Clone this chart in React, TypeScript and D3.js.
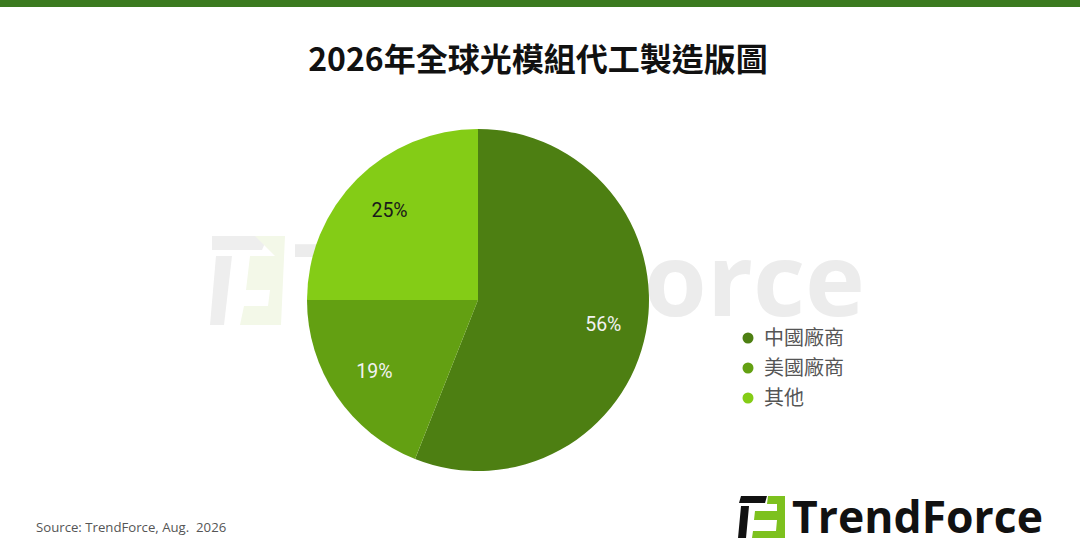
import React from 'react';
import * as d3 from 'd3';

const categories = ['中國廠商', '美國廠商', '其他'];
const shares = [56, 19, 25];
const sliceColors = ['#4d7f12', '#63a012', '#84cc16'];
const labelColors = ['#f2f2f2', '#f2f2f2', '#1a1a1a'];

const W = 1080;
const H = 560;
const CX = 478;
const CY = 300;
const R = 171;

const App: React.FC = () => {
  const pie = d3.pie<number>().sort(null).value(d => d)(shares);
  const arc = d3.arc<d3.PieArcDatum<number>>().innerRadius(0).outerRadius(R);
  const labelArc = d3.arc<d3.PieArcDatum<number>>().innerRadius(R * 0.74).outerRadius(R * 0.74);

  const legendY = d3.scalePoint<string>().domain(categories).range([338, 398]);

  return (
    <svg width={W} height={H} style={{ position: 'absolute', left: 0, top: 0, background: '#fff' }}
      fontFamily="'Noto Sans CJK TC', 'Noto Sans', sans-serif">
      <rect x={0} y={0} width={W} height={7} fill="#3b7a1f" />
      <text x={538} y={71} textAnchor="middle" fontSize={32} fontWeight={700} fill="#111">
        2026年全球光模組代工製造版圖
      </text>

      {/* watermark */}
      <g>
        <path d="M212,236 L268,236 L262,250 L212,250 Z" fill="#eeeeee" />
        <path d="M216,256 L232,256 L224,325 L210,325 Z" fill="#eeeeee" />
        <path d="M255,236 L285,236 L281,325 L240,325 L244,306 L268,306 L270,290 L246,290 L250,256 L275,256 Z" fill="#f3f8e8" />
        <text x={293} y={316} fontSize={100} fontWeight={700} fill="#ececec"
          textLength={572} lengthAdjust="spacingAndGlyphs"
          fontFamily="'Open Sans', 'DejaVu Sans', sans-serif">TrendForce</text>
      </g>

      <g transform={`translate(${CX},${CY})`}>
        {pie.map((d, i) => (
          <path key={categories[i]} d={arc(d) || ''} fill={sliceColors[i]} />
        ))}
        {pie.map((d, i) => {
          const [x, y] = labelArc.centroid(d);
          return (
            <text key={'l' + i} x={x + 1} y={y} dy="0.35em" textAnchor="middle" fontSize={19.5}
              fill={labelColors[i]} fontFamily="Roboto, 'Noto Sans', sans-serif">
              {shares[i]}%
            </text>
          );
        })}
      </g>

      {categories.map((c, i) => (
        <g key={c} transform={`translate(748,${legendY(c)})`}>
          <circle r={5.5} fill={sliceColors[i]} />
          <text x={16} dy="0.35em" fontSize={20} fill="#555">{c}</text>
        </g>
      ))}

      <text x={36} y={532} fontSize={13.2} fill="#555" style={{ whiteSpace: 'pre' }}
        fontFamily="'Source Sans Pro', 'Open Sans', 'Noto Sans', sans-serif">Source: TrendForce, Aug.  2026</text>

      {/* logo */}
      <g>
        <path d="M741,496 L767,496 L765,503 L739,503 Z" fill="#111" />
        <path d="M741,506 L749,506 L746,538 L738,538 Z" fill="#111" />
        <path d="M768,496 L785,496 L785,538 L752,538 L753,531 L776,531 L777,520 L754,520 L755,511 L777,511 L777,504 L767,504 Z" fill="#7dc11e" />
        <text x={792} y={533} fontSize={44} fontWeight={700} fill="#111"
          textLength={251} lengthAdjust="spacingAndGlyphs"
          fontFamily="'Open Sans', 'DejaVu Sans', sans-serif">TrendForce</text>
      </g>
    </svg>
  );
};

export default App;
